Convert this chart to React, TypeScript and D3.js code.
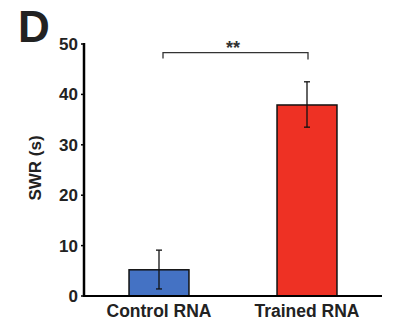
import React from "react";
import * as d3 from "d3";

const categories = ["Control RNA", "Trained RNA"];
const means = [5.2, 37.9];
const errLow = [1.4, 33.5];
const errHigh = [9.1, 42.5];
const colors = ["#4472C4", "#EE3124"];
const yTicks = [0, 10, 20, 30, 40, 50];

export default function App() {
  const W = 395, H = 328;
  const left = 84, right = 382, top = 44, bottom = 296;
  const x = d3.scaleBand<string>().domain(categories).range([left + 1, right - 1]).paddingInner(0.595).paddingOuter(0.2975);
  const y = d3.scaleLinear().domain([0, 50]).range([bottom, top]);
  const font = "'Liberation Sans', Arial, sans-serif";
  const bw = x.bandwidth();
  const c0 = (x(categories[0]) as number) + bw / 2;
  const c1 = (x(categories[1]) as number) + bw / 2;
  const brY = y(48.3);
  return (
    <svg width={W} height={H} style={{ position: "absolute", left: 0, top: 0, background: "#fff" }} fontFamily={font}>
      <text x={18} y={42} fontSize={44} fontWeight="bold" fill="#222">D</text>
      {/* bars */}
      {categories.map((c, i) => (
        <g key={c}>
          <rect x={x(c)} y={y(means[i])} width={bw} height={bottom - y(means[i])} fill={colors[i]} stroke="#111" strokeWidth={1.5} />
          <line x1={(x(c) as number) + bw / 2} x2={(x(c) as number) + bw / 2} y1={y(errHigh[i])} y2={y(errLow[i])} stroke="#111" strokeWidth={1.3} />
          <line x1={(x(c) as number) + bw / 2 - 3} x2={(x(c) as number) + bw / 2 + 3} y1={y(errHigh[i])} y2={y(errHigh[i])} stroke="#111" strokeWidth={1.3} />
          <line x1={(x(c) as number) + bw / 2 - 3} x2={(x(c) as number) + bw / 2 + 3} y1={y(errLow[i])} y2={y(errLow[i])} stroke="#111" strokeWidth={1.3} />
          <text x={(x(c) as number) + bw / 2} y={317} textAnchor="middle" fontSize={17.5} fontWeight="bold" fill="#222">{c}</text>
        </g>
      ))}
      {/* axes */}
      <line x1={left} x2={left} y1={top - 1} y2={bottom + 1} stroke="#000" strokeWidth={2.5} />
      <line x1={left} x2={right} y1={bottom} y2={bottom} stroke="#000" strokeWidth={2} />
      {yTicks.map((t) => (
        <g key={t}>
          <line x1={left - 3} x2={left} y1={y(t)} y2={y(t)} stroke="#000" strokeWidth={1.5} />
          <text x={left - 6} y={y(t)} dy="0.35em" textAnchor="end" fontSize={17} fontWeight="bold" fill="#222">{t}</text>
        </g>
      ))}
      <text transform={`translate(41,168) rotate(-90)`} textAnchor="middle" fontSize={17} fontWeight="bold" fill="#222">SWR (s)</text>
      {/* significance bracket */}
      <path d={`M${c0 + 4},${brY + 6}V${brY}H${c1 + 1}V${brY + 7}`} fill="none" stroke="#333" strokeWidth={1.3} />
      <text x={(c0 + c1) / 2} y={brY + 1} textAnchor="middle" fontSize={18} fontWeight="bold" fill="#333">**</text>
    </svg>
  );
}
